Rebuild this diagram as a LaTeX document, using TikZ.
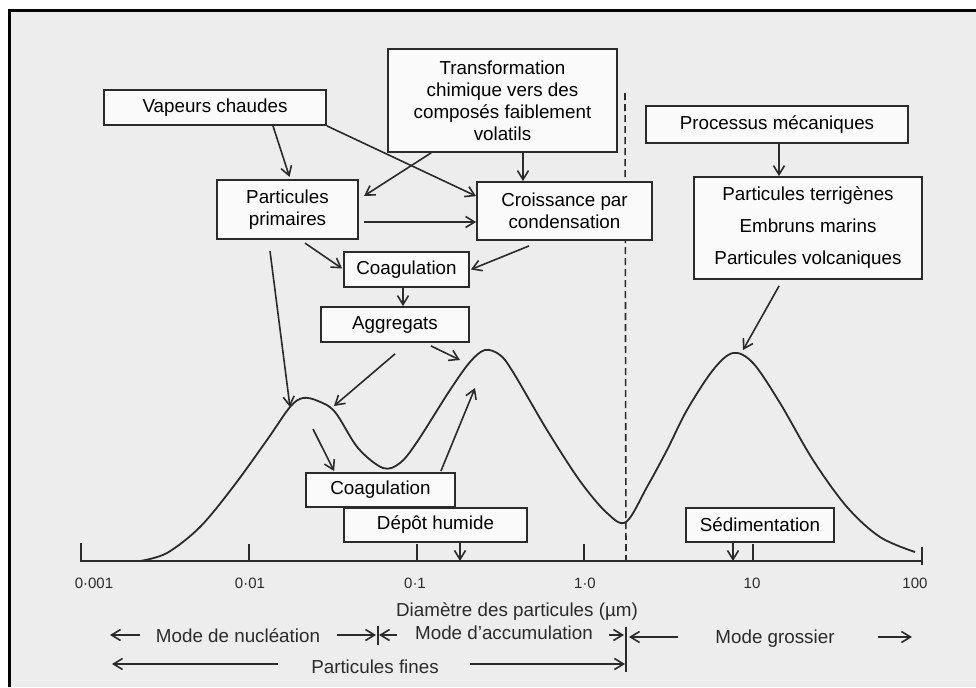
\documentclass[tikz,border=0pt]{standalone}
\usepackage{fontspec}
\setmainfont{Liberation Sans}
\usetikzlibrary{arrows.meta, calc}
\definecolor{paper}{HTML}{EDEDED}
\definecolor{ink}{HTML}{2B2B2B}
\definecolor{boxfill}{HTML}{FAFAFA}

\tikzset{
  procbox/.style={draw=ink, fill=boxfill, line width=0.9pt, align=center,
    inner sep=0pt, font=\fontsize{9.4}{11}\selectfont},
  flow/.style={draw=ink, line width=0.8pt, ->},
  lbl/.style={text=ink, inner sep=1pt, font=\fontsize{9.4}{11}\selectfont},
  ticklbl/.style={text=ink, inner sep=1pt, font=\fontsize{7.5}{9}\selectfont},
}

\begin{document}
\begin{tikzpicture}[x=0.5pt, y=-0.5pt, >={Straight Barb[length=4.5pt, width=5.5pt]}]

\useasboundingbox (0,0) rectangle (976,687);

% Background and frame
\fill[white] (0,0) rectangle (976,687);
\fill[paper] (9,10) rectangle (976,687);
\draw[black, line width=1.5pt] (9.5,687) -- (9.5,10.5) -- (976,10.5);

% --- Dashed divider (fine / coarse), behind the boxes ---
\draw[ink, line width=0.8pt, dash pattern=on 3.5pt off 2pt] (625,93) -- (626,561);
\draw[ink, line width=0.8pt] (626,627) -- (626,672);

% --- Process boxes ---
\node[procbox, minimum width=111pt, minimum height=17.5pt] (vap) at (215,107.5)
  {Vapeurs chaudes};
\node[procbox, minimum width=114.5pt, minimum height=51.5pt] (trans) at (502.5,100.5)
  {Transformation\\chimique vers des\\composés faiblement\\volatils};
\node[procbox, minimum width=70.5pt, minimum height=29.5pt, line width=1.1pt] (prim) at (287.5,209.5)
  {Particules\\primaires};
\node[procbox, minimum width=87.5pt, minimum height=29pt] (crois) at (564.5,211)
  {Croissance par\\condensation};
\node[procbox, minimum width=62.5pt, minimum height=17.5pt] (coagA) at (406.5,269.5)
  {Coagulation};
\node[procbox, minimum width=74pt, minimum height=17.5pt] (aggr) at (395,324.5)
  {Aggregats};
\node[procbox, minimum width=131pt, minimum height=18.5pt] (meca) at (777,124.5)
  {Processus mécaniques};
\node[procbox, minimum width=114pt, minimum height=51pt] (terr) at (808,228)
  {Particules terrigènes\\[5pt]Embruns marins\\[5pt]Particules volcaniques};

% --- Size distribution curve ---
\draw[ink, line width=0.9pt] plot[smooth, tension=0.55] coordinates {
  (140,561) (167,553) (200,527) (233,487) (267,440) (290,407) (303,398)
  (318,401) (335,412) (358,448) (383,468) (400,463) (417,442) (450,390)
  (470,362) (485,350) (500,355) (513,372) (547,430) (580,481) (607,513)
  (626,522) (647,487) (667,450) (687,410) (713,370) (733,353) (753,363)
  (780,403) (813,460) (847,507) (880,537) (915,552)};

% --- Points on the curve ---
\coordinate (pkA) at (290,407);   % left flank, peak 1
\coordinate (pkB) at (334,406);   % right flank, peak 1
\coordinate (pkC) at (460,360);   % left flank, peak 2
\coordinate (pkD) at (313,429);   % below peak 1
\coordinate (pkE) at (475,388);   % inside peak 2
\coordinate (pkF) at (743,350);   % top of peak 3
\coordinate (axDep) at (460,561); % axis, wet deposition
\coordinate (axSed) at (733,561); % axis, sedimentation

% --- Lower process boxes ---
\node[procbox, minimum width=74.5pt, minimum height=17pt] (coagB) at (380.5,490)
  {Coagulation};
\node[procbox, minimum width=91.5pt, minimum height=17pt] (depot) at (435.5,525)
  {Dépôt humide};
\node[procbox, minimum width=74pt, minimum height=17pt] (sedim) at (760,525)
  {Sédimentation};

% --- Axis ---
\draw[ink, line width=0.9pt] (81,543) -- (81,561) -- (922,561);
\draw[ink, line width=0.9pt] (922,547) -- (922,565);
\foreach \tx in {249,417,584,753}
  \draw[ink, line width=0.9pt] (\tx,561) -- (\tx,544);
\node[ticklbl] (t1) at (94,583) {0·001};
\node[ticklbl] (t2) at (250,583) {0·01};
\node[ticklbl] (t3) at (415,583) {0·1};
\node[ticklbl] (t4) at (585,583) {1·0};
\node[ticklbl] (t5) at (752,583) {10};
\node[ticklbl] (t6) at (915,583) {100};
\node[lbl] (diam) at (517,612) {Diamètre des particules (µm)};

% --- Flow arrows ---
\draw[flow] ($(vap.south)+(58,0)$) -- ($(prim.north)+(2,-2)$);
\draw[flow] (vap.south east) -- ($(crois.north west)+(0,15)$);
\draw[flow] ($(trans.south west)+(44,0)$) -- ($(prim.north east)+(5,17)$);
\draw[flow] ($(trans.south)+(20.5,0)$) -- ($(crois.north)+(-41.5,0)$);
\draw[flow] ($(prim.east)+(5,12.5)$) -- ($(crois.west)+(0,11)$);
\draw[flow] ($(prim.south)+(17.5,3)$) -- ($(coagA.west)+(-1,-1)$);
\draw[flow] ($(crois.south west)+(53,5)$) -- ($(coagA.east)+(1,0)$);
\draw[flow] ($(coagA.south)+(-3.5,0)$) -- ($(aggr.north)+(8,0)$);
\draw[flow] ($(prim.south)+(-17.5,11)$) -- (pkA);
\draw[flow] ($(aggr.south)+(0,11)$) -- (pkB);
\draw[flow] ($(aggr.south east)+(-39,3)$) -- (pkC);
\draw[flow] (pkD) -- ($(coagB.north west)+(29,-1)$);
\draw[flow] ($(coagB.north east)+(-15,-1)$) -- (pkE);
\draw[flow] ($(depot.south)+(24.5,0)$) -- (axDep);
\draw[flow] ($(meca.south)+(2,0)$) -- ($(terr.north)+(-29,0)$);
\draw[flow] ($(terr.south west)+(86,6)$) -- (pkF);
\draw[flow] ($(sedim.south)+(-27,0)$) -- (axSed);

% --- Mode labels ---
\node[lbl] (nuc) at (238,636) {Mode de nucléation};
\node[lbl] (accu) at (504,633) {Mode d'accumulation};
\node[lbl] (gros) at (775,639) {Mode grossier};
\node[lbl] (fines) at (375,667) {Particules fines};

\coordinate (nucL) at (110,635);
\coordinate (nucR) at (376,635);
\coordinate (accL) at (379,635);
\coordinate (accR) at (624,635);
\coordinate (grL) at (629,637);
\coordinate (grR) at (912,637);
\coordinate (fiL) at (112,664);
\coordinate (fiR) at (625,664);

\draw[flow] ($(nucL)+(30,0)$) -- (nucL);
\draw[flow] ($(nucR)+(-39,0)$) -- (nucR);
\draw[ink, line width=0.8pt] (378,626) -- (378,645);
\draw[flow] ($(accL)+(18,0)$) -- (accL);
\draw[flow] ($(accR)+(-15,0)$) -- (accR);
\draw[flow] ($(grL)+(49,0)$) -- (grL);
\draw[flow] ($(grR)+(-34,0)$) -- (grR);
\draw[flow] ($(fiL)+(166,0)$) -- (fiL);
\draw[flow] ($(fiR)+(-155,0)$) -- (fiR);

\end{tikzpicture}
\end{document}
